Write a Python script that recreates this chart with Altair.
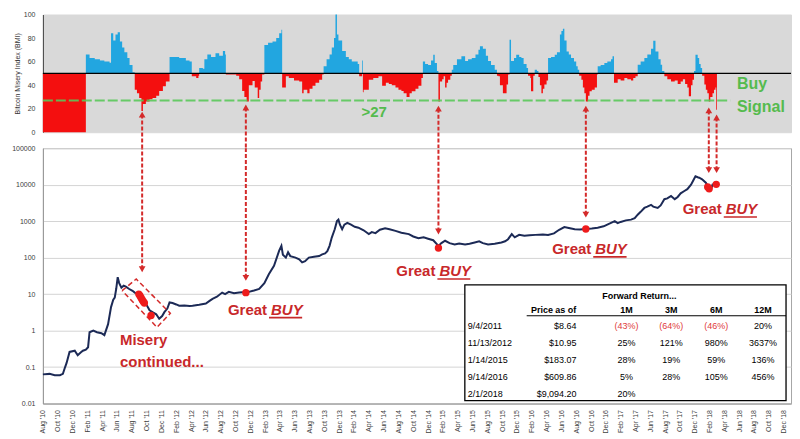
import altair as alt
import pandas as pd

# ---------------- data (time = months elapsed since 1 Aug 2010) ----------------
bmi_month = [0.0, 5.8, 6.3, 7.0, 7.7, 8.3, 9.0, 9.2, 9.5, 9.8, 10.1, 10.4, 10.7, 11.0, 11.4, 11.7, 12.1,
             12.4, 12.7, 13.0, 13.3, 13.5, 13.9, 14.4, 14.8, 15.3, 15.7, 16.2, 16.6, 17.1, 17.8, 18.4,
             18.9, 19.3, 19.8, 20.1, 20.7, 21.0, 21.1, 21.6, 21.8, 22.2, 22.7, 23.3, 23.8, 24.3, 24.6,
             24.7, 25.4, 26.1, 26.5, 26.9, 27.2, 27.5, 27.8, 28.3, 28.6, 29.0, 29.2, 29.4, 29.6, 29.9,
             30.4, 31.0, 31.5, 31.9, 32.2, 32.3, 32.8, 33.2, 33.9, 34.6, 35.0, 35.2, 35.7, 36.0, 36.4,
             36.8, 37.3, 37.7, 37.9, 38.3, 38.7, 39.0, 39.3, 39.5, 39.7, 39.9, 40.4, 40.9, 41.3, 41.7,
             42.2, 42.5, 42.7, 42.9, 43.1, 43.2, 43.3, 44.0, 44.6, 45.3, 45.8, 46.3, 46.7, 47.1, 47.6,
             48.0, 48.4, 48.7, 49.1, 49.5, 49.8, 50.3, 50.7, 51.1, 51.3, 51.6, 52.0, 52.4, 52.7, 52.9,
             53.2, 53.4, 53.6, 53.9, 54.1, 54.3, 54.5, 54.7, 55.0, 55.2, 55.4, 55.9, 56.5, 57.0, 57.4,
             57.9, 58.4, 58.8, 59.0, 59.4, 59.8, 60.1, 60.5, 61.0, 61.3, 61.5, 61.7, 62.1, 62.6, 62.8,
             63.0, 63.2, 63.6, 63.9, 64.3, 64.6, 64.9, 65.3, 65.5, 65.8, 65.9, 66.2, 66.4, 66.7, 66.9,
             67.1, 67.3, 67.5, 67.7, 68.0, 68.2, 68.6, 69.1, 69.4, 69.8, 70.0, 70.2, 70.4, 70.7, 71.0,
             71.3, 71.7, 72.0, 72.2, 72.4, 72.7, 72.9, 73.1, 73.3, 73.6, 73.8, 74.1, 74.5, 74.8, 74.9,
             75.3, 75.8, 76.2, 76.7, 76.9, 77.1, 77.6, 78.0, 78.5, 78.9, 79.4, 79.7, 80.0, 80.3, 80.7,
             81.2, 81.6, 82.1, 82.4, 82.7, 83.1, 83.4, 83.6, 83.9, 84.3, 84.8, 85.3, 85.7, 86.1, 86.4,
             86.7, 87.0, 87.2, 87.5, 87.7, 87.9, 88.1, 88.4, 88.6, 88.8, 89.0, 89.3, 89.5, 89.7, 89.9,
             90.1, 90.4, 90.6, 90.8, 90.9]
bmi_value = [0, 66, 63, 62, 61, 60, 59, 84, 78, 83, 85, 77, 72, 68, 63, 57, 51,
             36, 33, 29, 18, 24, 26, 28, 29, 31, 35, 39, 43, 64, 64, 63,
             63, 61, 60, 47.5, 46, 48, 54.5, 54, 62, 66, 64, 67, 65, 69, 66,
             49, 49, 48, 45, 35, 30, 26, 40, 43.5, 38, 29, 36, 43, 49, 74,
             76, 77, 80, 84, 87, 38, 47.5, 46, 44, 43, 33, 36, 33, 37, 39.5,
             42, 44.6, 49, 56, 62, 66, 72, 80, 100, 83, 78, 69, 64, 62, 60,
             60, 58, 47.5, 47.5, 61, 34, 36, 44.6, 46, 47.5, 39.5, 42, 41, 40, 38,
             36, 35, 33, 30, 33, 34.7, 37, 39.5, 46, 60, 58, 57, 61, 65.8, 58.7,
             52, 26, 43, 45, 47.5, 38, 42, 44.6, 48, 53, 57, 62, 64.5, 60.5, 62,
             63, 66, 70, 73, 71, 65, 60.5, 57, 53, 48, 47.5, 40, 33, 40.5, 49,
             78.5, 60.5, 63, 65.8, 64, 63, 58, 54.5, 48, 46, 34.7, 48, 53, 52, 47,
             40, 33, 37, 40.5, 44, 63, 64, 65.8, 68, 83, 86, 88, 78, 68.6, 66,
             63, 60, 56, 53, 48, 44.6, 38, 33, 26, 31, 34.7, 36, 38, 49, 56,
             57, 58.7, 60, 62, 64.5, 42, 45, 44, 46, 45, 44, 46, 47.5, 57.4, 60,
             63, 66, 71, 77.7, 68.6, 62, 57.4, 52, 47.5, 45, 43, 44, 41, 43, 45,
             41, 38, 30.5, 40, 44.6, 52, 65.8, 63, 58, 54.5, 48, 40.5, 36, 33, 26,
             30, 33, 36, 38, 19]
bmi_last_month = 91.0
neutral_level = 50
signal_level = 27
signal_line_end = 92.8

price_month = [0.0, 0.9, 1.6, 2.3, 2.7, 3.0, 3.2, 3.6, 4.3, 4.7, 5.1, 5.4, 5.8, 6.1, 6.3, 6.8, 7.3,
               7.9, 8.3, 8.8, 9.2, 9.5, 9.7, 9.9, 10.1, 10.3, 10.6, 10.9, 11.2, 11.6, 12.1, 12.4,
               12.8, 13.2, 13.5, 13.9, 14.4, 14.8, 15.3, 15.7, 16.1, 16.4, 16.8, 17.1, 17.5, 18.0,
               18.4, 19.1, 19.8, 20.2, 21.1, 22.0, 22.5, 22.9, 23.5, 24.2, 24.6, 25.1, 25.8, 26.5,
               26.9, 27.4, 27.8, 28.5, 29.2, 29.9, 30.5, 31.2, 31.9, 32.2, 32.4, 32.8, 33.1, 33.4,
               34.1, 34.6, 35.0, 35.4, 35.9, 36.6, 37.3, 37.7, 38.1, 38.4, 38.7, 39.0, 39.4, 39.7,
               39.9, 40.1, 40.4, 40.7, 41.1, 41.6, 42.1, 42.6, 43.3, 44.0, 44.4, 44.9, 45.5, 46.2,
               46.8, 47.6, 48.4, 49.4, 50.0, 50.7, 51.4, 52.0, 52.7, 53.4, 53.8, 54.3, 54.9, 55.6,
               56.2, 57.0, 57.6, 58.3, 58.9, 59.4, 60.1, 61.0, 61.9, 62.4, 62.8, 63.3, 63.7, 64.3,
               65.0, 65.7, 66.5, 67.5, 68.2, 69.0, 69.7, 70.4, 71.0, 71.8, 72.5, 73.3, 74.1, 74.9,
               75.7, 76.7, 77.2, 77.6, 78.0, 78.7, 79.4, 79.9, 80.3, 80.7, 81.2, 81.6, 82.1, 82.4,
               83.0, 83.4, 83.9, 84.3, 84.8, 85.3, 85.7, 86.1, 86.6, 87.0, 87.5, 87.8, 88.1, 88.4,
               88.6, 89.0, 89.5, 89.9, 90.2, 90.4, 90.8, 91.0]
price_usd = [0.063, 0.065, 0.06, 0.06, 0.065, 0.1, 0.13, 0.26, 0.28, 0.21, 0.25, 0.28, 0.3, 0.35, 0.9, 1.0, 0.9,
             0.85, 0.75, 1.5, 4.4, 7, 8, 14, 29, 20, 15, 17, 16, 14, 12.3, 11,
             10, 8, 6.5, 5.5, 3.6, 3.2, 2.8, 2.1, 2.5, 3.2, 4, 5.9, 5.7, 5.2,
             4.8, 4.9, 4.7, 4.8, 5.1, 5.5, 6.5, 7.4, 8.5, 11, 10, 11.5, 10.5, 11,
             11.3, 10.5, 11.5, 12.5, 13.8, 20, 35, 60, 155, 210, 120, 100, 140, 110,
             100, 90, 74, 80, 100, 105, 110, 123, 130, 150, 210, 355, 600, 1000,
             1100, 800, 600, 800, 900, 800, 700, 660, 560, 440, 500, 470, 580, 640,
             600, 540, 480, 440, 380, 340, 360, 330, 300, 210, 250, 290, 250, 230,
             245, 230, 240, 260, 280, 250, 230, 240, 260, 280, 320, 440, 360, 420,
             400, 410, 420, 430, 420, 460, 580, 690, 650, 600, 590, 610, 630, 660,
             720, 900, 1000, 880, 950, 1050, 1100, 1200, 1500, 1800, 2300, 2500, 2800, 2500,
             2300, 2700, 4000, 4200, 4900, 4000, 4600, 5800, 6700, 7500, 10000, 13000, 17000, 16000,
             15500, 14000, 11300, 8200, 7500, 10000, 10500, 10000]

misery_box_month = [10.7, 12.6, 17.2, 15.4, 10.7]
misery_box_price = [12.4, 25.9, 2.97, 1.23, 12.4]

dot_month = [12.95, 13.1, 13.25, 13.4, 13.55, 13.7, 14.6, 27.4, 53.4, 73.3, 89.75, 89.95, 90.9]
dot_price = [10.0, 9.0, 8.0, 7.0, 6.3, 5.7, 2.6, 10.95, 183.07, 609.86, 8600, 7700, 10200]

arrow_month = [13.4, 27.4, 53.4, 73.3, 89.9, 90.95]
arrow_bmi = [15, 21, 20, 20, 18.5, 12.5]
arrow_price = [48, 28, 520, 1500, 25000, 25000]

misery_label = ["Misery", "continued..."]
misery_label_month = [10.4, 10.4]
misery_label_price = [0.55, 0.14]

great_split_month = [30.53, 53.26, 74.3, 91.92]
great_price = [3.7, 43.6, 174, 2150]
buy_underline_end = [35.0, 57.7, 78.8, 96.4]
buy_underline_price = [2.27, 26, 105, 1300]

table_title = "Forward Return..."
table_dates = ["9/4/2011", "11/13/2012", "1/14/2015", "9/14/2016", "2/1/2018"]
table_prices = ["$8.64", "$10.95", "$183.07", "$609.86", "$9,094.20"]
table_cols = ["1M", "3M", "6M", "12M"]
table_returns = [["(43%)", "(64%)", "(46%)", "20%"],
                 ["25%", "121%", "980%", "3637%"],
                 ["28%", "19%", "59%", "136%"],
                 ["5%", "28%", "105%", "456%"],
                 ["20%", "", "", ""]]

# ---------------- styles / layout ----------------
W, H_TOP, H_BOT, GAP = 750, 118, 256, 16
RED = "#d42a2a"
BAR_RED = "#f40f0f"
BLUE = "#22a6e0"
NAVY = "#1c2a56"
GREEN = "#55bb4e"
TXT_RED = "#c8282a"
FONT = "Liberation Sans"
AXIS_FS = 7

xs = alt.Scale(domain=[0, 101], nice=False, zero=False)
months = ['Jan', 'Feb', 'Mar', 'Apr', 'May', 'Jun', 'Jul', 'Aug', 'Sep', 'Oct', 'Nov', 'Dec']
label_expr = ("[" + ",".join("'%s'" % m for m in months) + "][(datum.value + 7) % 12]"
              " + \" '\" + (10 + floor((datum.value + 7) / 12))")
x_ticks = list(range(0, 101, 2))
bmi_ticks = [0, 20, 40, 60, 80, 100]
price_ticks = [0.01, 0.1, 1, 10, 100, 1000, 10000, 100000]

one = pd.DataFrame({"k": [0]})

# ---------------- top panel (BMI) ----------------
bmi_df = pd.DataFrame({"m": bmi_month + [bmi_last_month],
                       "bmi": bmi_value + [bmi_value[-1]]})

ybmi = alt.Scale(domain=[0, 100], nice=False)
area_hi = alt.Chart(bmi_df).transform_calculate(
    hi="max(datum.bmi, %d)" % neutral_level
).mark_area(interpolate="step-after", color=BLUE, opacity=1).encode(
    x=alt.X("m:Q", scale=xs, axis=None),
    y=alt.Y("hi:Q", scale=ybmi,
            axis=alt.Axis(values=bmi_ticks, tickCount=len(bmi_ticks), title="Bitcoin Misery Index (BMI)",
                          grid=False, ticks=False, domainColor="#404040", labelFontSize=AXIS_FS,
                          labelColor="#404040", labelPadding=8, titleFontSize=AXIS_FS,
                          titleFontWeight="normal", titleColor="#333333", titlePadding=3,
                          labelOverlap=False)),
    y2=alt.datum(neutral_level),
)
area_lo = alt.Chart(bmi_df).transform_calculate(
    hi="min(datum.bmi, %d)" % neutral_level
).mark_area(interpolate="step-after", color=BAR_RED, opacity=1).encode(
    x="m:Q", y="hi:Q", y2=alt.datum(neutral_level))

line50 = alt.Chart(pd.DataFrame({"hi": [neutral_level]})).mark_rule(
    color="black", strokeWidth=1.2).encode(y="hi:Q")

green_df = pd.DataFrame({"m": [0], "m2": [signal_line_end], "hi": [signal_level]})
green = alt.Chart(green_df).mark_rule(color="#5ac85a", strokeDash=[10, 3], strokeWidth=2,
                                      opacity=0.9).encode(x="m:Q", x2="m2:Q", y="hi:Q")

arr_df = pd.DataFrame({"m": arrow_month, "hi": arrow_bmi, "price": arrow_price})
arr_top = alt.Chart(arr_df).mark_rule(color=RED, strokeDash=[4, 2], strokeWidth=2).encode(
    x="m:Q", y="hi:Q", y2=alt.value(H_TOP + GAP))
head_top = alt.Chart(arr_df).mark_point(shape="triangle-up", filled=True, size=45, color=RED,
                                        opacity=1).encode(x="m:Q", y="hi:Q")

gt_df = pd.DataFrame({"m": [43.0], "hi": [17], "t": [">27"]})
gt27 = alt.Chart(gt_df).mark_text(align="left", baseline="middle", fontSize=15, fontWeight="bold",
                                  color=GREEN, font=FONT).encode(x="m:Q", y="hi:Q", text="t:N")
bs_df = pd.DataFrame({"m": [93.7, 93.7], "hi": [40.7, 21.6], "t": ["Buy", "Signal"]})
buysig = alt.Chart(bs_df).mark_text(align="left", baseline="middle", fontSize=16, fontWeight="bold",
                                    color=GREEN, font=FONT).encode(x="m:Q", y="hi:Q", text="t:N")

top = alt.layer(area_hi, area_lo, line50, green, arr_top, head_top, gt27, buysig).properties(
    width=W, height=H_TOP, view=alt.ViewBackground(fill="#d9d9d9", stroke="#d9d9d9"))

# ---------------- bottom panel (price) ----------------
ys = alt.Scale(type="log", domain=[0.01, 100000], nice=False)
price_df = pd.DataFrame({"m": price_month, "price": price_usd})

line = alt.Chart(price_df).mark_line(color=NAVY, strokeWidth=2).encode(
    x=alt.X("m:Q", scale=xs,
            axis=alt.Axis(values=x_ticks, tickCount=len(x_ticks), labelExpr=label_expr,
                          labelAngle=270, labelFontSize=AXIS_FS, labelColor="#404040", grid=False,
                          ticks=False, domainColor="#999999", labelPadding=6, title=None,
                          labelOverlap=False)),
    y=alt.Y("price:Q", scale=ys,
            axis=alt.Axis(values=price_ticks, tickCount=len(price_ticks), format="~g",
                          grid=True, gridColor="#d4d4d4", ticks=False, domainColor="#999999",
                          labelFontSize=AXIS_FS, labelColor="#404040", labelPadding=8, title=None,
                          labelOverlap=False)),
)

box_df = pd.DataFrame({"m": misery_box_month, "price": misery_box_price,
                       "i": list(range(len(misery_box_month)))})
box = alt.Chart(box_df).mark_line(color=RED, strokeDash=[5, 3], strokeWidth=1.5).encode(
    x="m:Q", y="price:Q", order="i:Q")

dots = alt.Chart(pd.DataFrame({"m": dot_month, "price": dot_price})).mark_circle(
    size=55, color="#ee1c1c", opacity=1).encode(x="m:Q", y="price:Q")

arr_bot = alt.Chart(arr_df).mark_rule(color=RED, strokeDash=[4, 2], strokeWidth=2).encode(
    x="m:Q", y="price:Q", y2=alt.value(0))
head_bot = alt.Chart(arr_df).mark_point(shape="triangle-down", filled=True, size=45, color=RED,
                                        opacity=1).encode(x="m:Q", y="price:Q")

mis_df = pd.DataFrame({"m": misery_label_month, "price": misery_label_price, "t": misery_label})
mis_txt = alt.Chart(mis_df).mark_text(align="left", baseline="middle", fontSize=15,
                                      fontWeight="bold", color=TXT_RED, font=FONT).encode(
    x="m:Q", y="price:Q", text="t:N")

gb_df = pd.DataFrame({"m": great_split_month, "price": great_price,
                      "g": ["Great"] * 4, "b": ["BUY"] * 4,
                      "m2": buy_underline_end, "pu": buy_underline_price})
great_txt = alt.Chart(gb_df).mark_text(align="right", baseline="middle", dx=-2, fontSize=15,
                                       fontWeight="bold", color=TXT_RED, font=FONT).encode(
    x="m:Q", y="price:Q", text="g:N")
buy_txt = alt.Chart(gb_df).mark_text(align="left", baseline="middle", dx=2, fontSize=15,
                                     fontWeight="bold", fontStyle="italic", color=TXT_RED,
                                     font=FONT).encode(x="m:Q", y="price:Q", text="b:N")
underline = alt.Chart(gb_df).mark_rule(color=TXT_RED, strokeWidth=1.6).encode(
    x="m:Q", x2="m2:Q", y="pu:Q")

# table (annotation box, laid out in pixels)
TX0, TX1, TY0, TY1 = 423, 745, 137, 253
table_layers = [
    alt.Chart(one).mark_rect(fill="white", stroke="black", strokeWidth=1.3).encode(
        x=alt.value(TX0), x2=alt.value(TX1), y=alt.value(TY0), y2=alt.value(TY1)),
    alt.Chart(one).mark_rule(color="black", strokeWidth=1).encode(
        x=alt.value(485), x2=alt.value(TX1), y=alt.value(168)),
]


def cell(text, x, y, align="center", color="black", weight="normal"):
    return alt.Chart(one).mark_text(align=align, baseline="middle", fontSize=9, font=FONT,
                                    color=color, fontWeight=weight).encode(
        x=alt.value(x), y=alt.value(y), text=alt.value(text))


col_x = [585, 630, 675, 722]
row_y = [178, 195, 212, 229, 246]
table_layers.append(cell(table_title, 598, 148, weight="bold"))
table_layers.append(cell("Price as of", 512, 162, weight="bold"))
for c, x in zip(table_cols, col_x):
    table_layers.append(cell(c, x, 162, weight="bold"))
for r, y in enumerate(row_y):
    table_layers.append(cell(table_dates[r], 426, y, align="left"))
    table_layers.append(cell(table_prices[r], 535, y, align="right"))
    for c, x in enumerate(col_x):
        v = table_returns[r][c]
        if v:
            table_layers.append(cell(v, x, y, color="#e03a3a" if v.startswith("(") else "black"))

bottom = alt.layer(line, box, dots, arr_bot, head_bot, mis_txt, great_txt, buy_txt, underline,
                   *table_layers).properties(
    width=W, height=H_BOT, view=alt.ViewBackground(fill="white", stroke="#a6a6a6"))

chart = alt.vconcat(top, bottom, spacing=GAP, bounds="flush").properties(
    padding={"left": 11, "top": 9, "right": 7, "bottom": 1}
).configure(font=FONT).configure_axis(labelFont=FONT, titleFont=FONT, labelOverlap=False)

chart.save("out.html", embed_options={"renderer": "svg", "actions": False})
